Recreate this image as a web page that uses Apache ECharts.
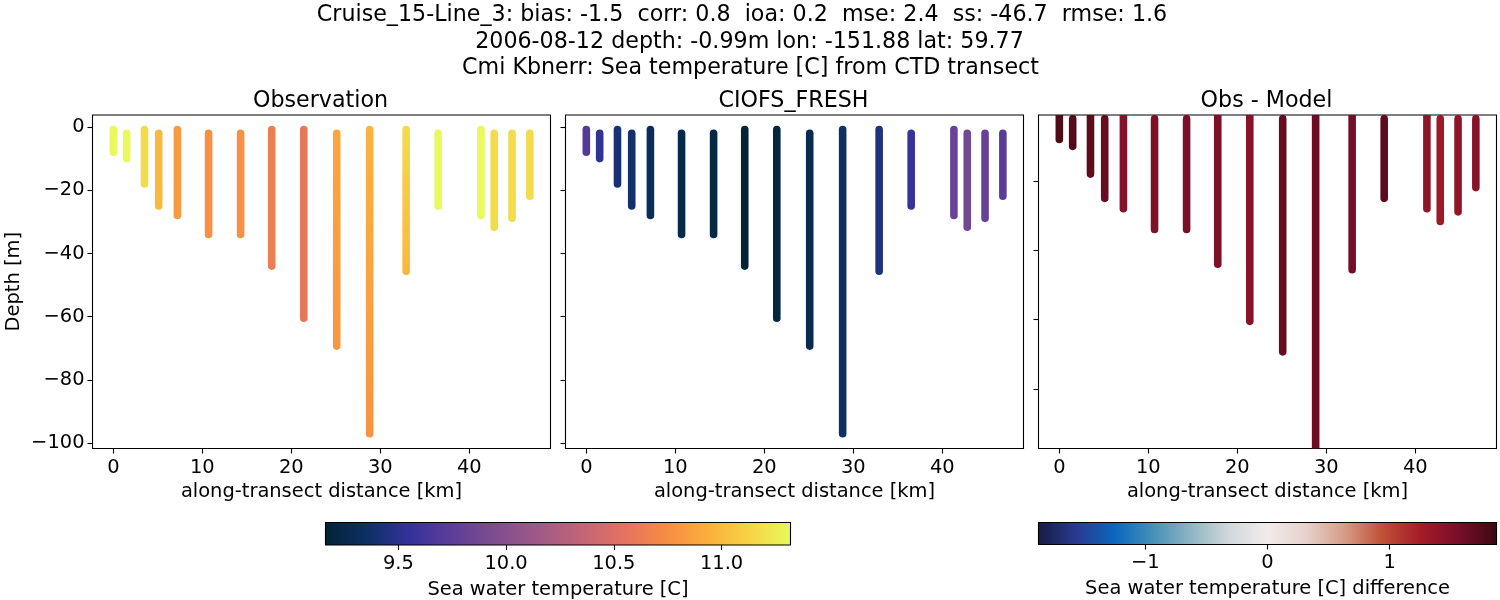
<!DOCTYPE html>
<html><head><meta charset="utf-8">
<style>html,body{margin:0;padding:0;background:#fff}#c{width:1500px;height:600px}</style>
<script src="https://cdn.jsdelivr.net/npm/echarts@6/dist/echarts.min.js"></script>
</head><body><div id="c"></div>
<script>
const titleLines = [
  "Cruise_15-Line_3: bias: -1.5  corr: 0.8  ioa: 0.2  mse: 2.4  ss: -46.7  rmse: 1.6",
  "2006-08-12 depth: -0.99m lon: -151.88 lat: 59.77",
  "Cmi Kbnerr: Sea temperature [C] from CTD transect"
];
const panelTitles = ["Observation", "CIOFS_FRESH", "Obs - Model"];
const distances = [0, 1.5, 3.5, 5.1, 7.2, 10.7, 14.3, 17.8, 21.4, 25.1, 28.8, 32.9, 36.5, 41.3, 42.8, 44.8, 46.8];
const topDepths = [-0.8, -2, -0.8, -2, -0.8, -2, -2, -0.8, -0.8, -2, -0.8, -0.8, -2, -0.8, -2, -2, -2];
const bottomDepths = [-8, -10, -18, -25, -28, -34, -34, -44, -60.5, -69.3, -97, -45.6, -25, -28, -31.7, -28.9, -21.9];
const obsTop = [11.32, 11.32, 11.17, 10.99, 10.82, 10.76, 10.76, 10.63, 10.58, 10.89, 10.96, 11.17, 11.32, 11.32, 11.17, 11.17, 11.17];
const obsBottom = [11.32, 11.32, 11.17, 10.99, 10.82, 10.76, 10.76, 10.63, 10.58, 10.80, 10.78, 10.97, 11.32, 11.32, 11.17, 11.17, 11.17];
const modelTop = [9.69, 9.53, 9.41, 9.39, 9.32, 9.25, 9.24, 9.17, 9.21, 9.28, 9.36, 9.45, 9.56, 9.82, 9.88, 9.80, 9.73];
const modelBottom = [9.69, 9.53, 9.41, 9.39, 9.32, 9.25, 9.24, 9.17, 9.21, 9.28, 9.36, 9.45, 9.56, 9.82, 9.88, 9.80, 9.73];
const diffTop = [1.78, 1.75, 1.70, 1.65, 1.48, 1.52, 1.55, 1.52, 1.45, 1.66, 1.62, 1.58, 1.70, 1.40, 1.32, 1.40, 1.46];
const diffBottom = [1.78, 1.75, 1.70, 1.65, 1.48, 1.52, 1.55, 1.52, 1.45, 1.66, 1.62, 1.58, 1.70, 1.40, 1.32, 1.40, 1.46];
const xTicks = [0, 10, 20, 30, 40];
const depthTicksA = [0, -20, -40, -60, -80, -100];
const depthTicksB = [-20, -40, -60, -80];
const tempTicks = [9.5, 10, 10.5, 11];
const tempLabels = ['9.5', '10.0', '10.5', '11.0'];
const diffTicks = [-1, 0, 1];
const tempRange = [9.162, 11.32];
const diffRange = [-1.874, 1.874];
const thermal = [[3,35,51],[13,48,100],[53,50,155],[93,62,153],[126,77,143],[158,89,135],[193,100,121],[225,113,97],[246,139,69],[251,173,60],[246,211,70],[231,250,90]];
const balance = [[23,28,66],[41,58,143],[11,102,189],[69,144,185],[142,181,194],[210,216,219],[241,236,236],[230,210,204],[213,157,137],[192,80,55],[165,28,40],[120,14,40],[60,9,17]];

const FONT = '"DejaVu Sans"';
const FS = 19.44;
const rgb = c => `rgb(${c[0]},${c[1]},${c[2]})`;
function cmap(stops, range, v) {
  const t = Math.max(0, Math.min(1, (v - range[0]) / (range[1] - range[0]))) * (stops.length - 1);
  const i = Math.min(stops.length - 2, Math.floor(t)), f = t - i;
  return rgb(stops[i].map((s, k) => Math.round(s + (stops[i + 1][k] - s) * f)));
}
const fmt = v => String(v).replace('-', '\u2212');
const H = {left: [92.5, 565.5, 1038.5], width: 458, top: 115, height: 333.5};
const yRanges = [[-101.7, 3.8], [-101.7, 3.8], [-97.2, -0.95]];
const xRange = [-2.34, 49.12];
const panels = [
  {tops: obsTop, bottoms: obsBottom, stops: thermal, range: tempRange},
  {tops: modelTop, bottoms: modelBottom, stops: thermal, range: tempRange},
  {tops: diffTop, bottoms: diffBottom, stops: balance, range: diffRange}
];
const tickStyle = {color: '#000', width: 1.1};
const grids = [], xAxes = [], yAxes = [], series = [];
panels.forEach((p, g) => {
  grids.push({left: H.left[g], top: H.top, width: H.width, height: H.height, outerBoundsMode: 'none', show: true, borderColor: '#000', borderWidth: 1.1, backgroundColor: '#fff'});
  xAxes.push({
    type: 'value', gridIndex: g, min: xRange[0], max: xRange[1], splitLine: {show: false},
    axisLine: {show: false, onZero: false},
    axisTick: {show: true, length: 5, customValues: xTicks, lineStyle: tickStyle},
    axisLabel: {customValues: xTicks, color: '#000', fontFamily: FONT, fontSize: FS, margin: 9.5, formatter: fmt},
    name: 'along-transect distance [km]', nameLocation: 'middle', nameGap: 34,
    nameTextStyle: {color: '#000', fontFamily: FONT, fontSize: FS}
  });
  const ticks = g === 2 ? depthTicksB : depthTicksA;
  yAxes.push({
    type: 'value', gridIndex: g, min: yRanges[g][0], max: yRanges[g][1], splitLine: {show: false},
    axisLine: {show: false, onZero: false},
    axisTick: {show: true, length: 5, customValues: ticks, lineStyle: tickStyle},
    axisLabel: {show: g === 0, customValues: ticks, color: '#000', fontFamily: FONT, fontSize: FS, margin: 8, padding: [2, 0, 0, 0], formatter: fmt},
    name: g === 0 ? 'Depth [m]' : '', nameLocation: 'middle', nameGap: 69.5,
    nameTextStyle: {color: '#000', fontFamily: FONT, fontSize: FS}
  });
  series.push({
    type: 'custom', xAxisIndex: g, yAxisIndex: g, silent: true, clip: true,
    data: distances.map((d, i) => [d, topDepths[i], bottomDepths[i], p.tops[i], p.bottoms[i]]),
    encode: {x: 0, y: [1, 2]},
    renderItem: (params, api) => {
      const a = api.coord([api.value(0), api.value(1)]);
      const b = api.coord([api.value(0), api.value(2)]);
      return {
        type: 'line',
        shape: {x1: a[0], y1: a[1], x2: b[0], y2: b[1]},
        style: {
          lineWidth: 7.6, lineCap: 'round', fill: null,
          stroke: new echarts.graphic.LinearGradient(0, 0, 0, 1, [
            {offset: 0, color: cmap(p.stops, p.range, api.value(3))},
            {offset: 1, color: cmap(p.stops, p.range, api.value(4))}
          ])
        }
      };
    }
  });
});
function barGrid(left, width, height, stops) {
  grids.push({
    left, top: 522.5, width, height, outerBoundsMode: 'none', show: true, borderColor: '#000', borderWidth: 1.1,
    backgroundColor: new echarts.graphic.LinearGradient(0, 0, 1, 0,
      stops.map((c, i) => ({offset: i / (stops.length - 1), color: rgb(c)})))
  });
}
function barAxis(g, range, ticks, labelFmt, name) {
  xAxes.push({
    type: 'value', gridIndex: g, min: range[0], max: range[1], splitLine: {show: false},
    axisLine: {show: false, onZero: false},
    axisTick: {show: true, length: 5, customValues: ticks, lineStyle: tickStyle},
    axisLabel: {customValues: ticks, color: '#000', fontFamily: FONT, fontSize: FS, margin: 9, formatter: labelFmt},
    name, nameLocation: 'middle', nameGap: 35,
    nameTextStyle: {color: '#000', fontFamily: FONT, fontSize: FS}
  });
  yAxes.push({type: 'value', gridIndex: g, min: 0, max: 1, show: false});
}
barGrid(325.5, 465, 22.5, thermal);
barAxis(3, tempRange, tempTicks, v => tempLabels[tempTicks.indexOf(v)], 'Sea water temperature [C]');
barGrid(1038.5, 458, 22, balance);
barAxis(4, diffRange, diffTicks, fmt, 'Sea water temperature [C] difference');

const titleStyle = {color: '#000', fontFamily: FONT, fontSize: 22.2, fontWeight: 'normal', lineHeight: 26};
const titles = [
  {text: titleLines[0], left: 742, top: 2, textAlign: 'center', padding: 0, textStyle: titleStyle},
  {text: titleLines[1], left: 749.5, top: 29, textAlign: 'center', padding: 0, textStyle: titleStyle},
  {text: titleLines[2], left: 750.5, top: 55.5, textAlign: 'center', padding: 0, textStyle: titleStyle}
].concat(panelTitles.map((t, g) => ({
  text: t, left: H.left[g] + H.width / 2 - 1, top: 88, textAlign: 'center', padding: 0, textStyle: titleStyle
})));
const chart = echarts.init(document.getElementById('c'), null, {renderer: 'canvas', width: 1500, height: 600});
chart.setOption({animation: false, backgroundColor: '#fff', title: titles, grid: grids, xAxis: xAxes, yAxis: yAxes, series});
</script></body></html>
